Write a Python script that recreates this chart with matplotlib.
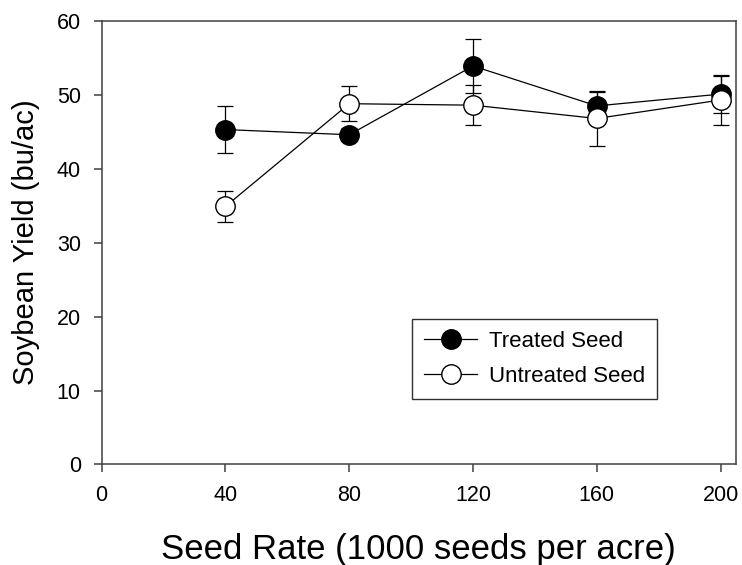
import matplotlib
matplotlib.use("Agg")
import matplotlib.pyplot as plt
from matplotlib.lines import Line2D

plt.rcParams['font.family'] = ['Liberation Sans', 'DejaVu Sans']

seed_rate = [40, 80, 120, 160, 200]
treated = [45.3, 44.6, 53.9, 48.5, 50.1]
treated_err = [3.2, 0.9, 3.6, 1.9, 2.5]
untreated = [34.9, 48.8, 48.6, 46.8, 49.3]
untreated_err = [2.1, 2.4, 2.7, 3.7, 3.4]

fig = plt.figure(figsize=(7.42, 5.65), dpi=100)
ax = fig.add_axes([0.137, 0.178, 0.855, 0.785])

ms = 14
ax.errorbar(seed_rate, treated, yerr=treated_err, fmt='o-', color='black',
            mfc='black', mec='black', ms=ms, lw=0.9, elinewidth=0.9,
            capsize=6, capthick=0.9, zorder=3)
ax.errorbar(seed_rate, untreated, yerr=untreated_err, fmt='o-', color='black',
            mfc='white', mec='black', ms=ms, lw=0.9, elinewidth=0.9,
            capsize=6, capthick=0.9, zorder=4)

ax.set_xlim(0, 205)
ax.set_ylim(0, 60)
ax.set_xticks([0, 40, 80, 120, 160, 200])
ax.set_yticks([0, 10, 20, 30, 40, 50, 60])
ax.tick_params(direction='out', length=6, width=1.1, colors='#404040',
               labelcolor='black', labelsize=15.5)
ax.tick_params(axis='x', pad=9)
ax.tick_params(axis='y', pad=9)
for s in ax.spines.values():
    s.set_color('#404040')
    s.set_linewidth(1.1)

ax.set_xlabel('Seed Rate (1000 seeds per acre)', fontsize=25, labelpad=19)
ax.set_ylabel('Soybean Yield (bu/ac)', fontsize=21, labelpad=12)

# legend shows plain marker+line, no error bars
handles = [
    Line2D([], [], color='black', lw=0.9, marker='o', ms=ms, mfc='black', mec='black'),
    Line2D([], [], color='black', lw=0.9, marker='o', ms=ms, mfc='white', mec='black'),
]
leg = ax.legend(handles, ['Treated Seed', 'Untreated Seed'],
                loc='upper left', bbox_to_anchor=(0.489, 0.328), fontsize=16,
                fancybox=False, edgecolor='#303030', framealpha=1,
                handlelength=2.4, borderpad=0.55, labelspacing=0.6,
                handletextpad=0.5, borderaxespad=0)
leg.get_frame().set_linewidth(1.0)

fig.savefig('out.png', dpi=100)
